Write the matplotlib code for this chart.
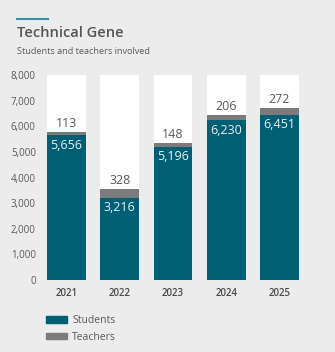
import matplotlib.pyplot as plt
from matplotlib.patches import Patch
from matplotlib.lines import Line2D

plt.rcParams['font.family'] = ['Open Sans', 'DejaVu Sans']

years = ["2021", "2022", "2023", "2024", "2025"]
students = [5656, 3216, 5196, 6230, 6451]
teachers = [113, 328, 148, 206, 272]
yticks = [0, 1000, 2000, 3000, 4000, 5000, 6000, 7000, 8000]

teal = "#005f73"
grey = "#7b7b7b"
bg = "#ececec"
txt = "#5a5a5a"

fig = plt.figure(figsize=(3.35, 3.52), dpi=100)
fig.patch.set_facecolor(bg)

ax = fig.add_axes([0.1194, 0.2045, 0.791, 0.5824])
ax.set_facecolor(bg)
x = list(range(len(years)))
w = 0.73

ax.bar(x, [8000] * len(x), width=w, color="white", zorder=1)
ax.bar(x, students, width=w, color=teal, zorder=2)
ax.bar(x, teachers, width=w, bottom=students, color=grey, zorder=2)

for i in x:
    top = students[i] + teachers[i]
    ax.annotate(f"{teachers[i]:,}", (i, top), xytext=(0, 1.5), textcoords="offset points",
                ha="center", va="bottom", fontsize=9, color=txt, zorder=3)
    ax.annotate(f"{students[i]:,}", (i, students[i]), xytext=(0, -2.5), textcoords="offset points",
                ha="center", va="top", fontsize=9, color="#e6f2f5", zorder=3)

ax.set_xlim(-0.5, 4.48)
ax.set_ylim(0, 8000)
ax.set_xticks(x)
ax.set_xticklabels(years, fontsize=7, color="#4a4a4a", fontweight="semibold")
ax.set_yticks(yticks)
ax.set_yticklabels([f"{v:,}" for v in yticks], fontsize=7, color=txt)
ax.tick_params(length=0)
ax.tick_params(axis="x", pad=6)
ax.tick_params(axis="y", pad=3)
for s in ax.spines.values():
    s.set_visible(False)

fig.add_artist(Line2D([17 / 335, 48 / 335], [1 - 19 / 352, 1 - 19 / 352], color="#3a8ea8", lw=1.5))
fig.text(17 / 335, 1 - 33 / 352, "Technical Gene", fontsize=10.5, color="#555555", va="center",
         fontweight="semibold")
fig.text(17 / 335, 1 - 52 / 352, "Students and teachers involved", fontsize=6.6, color=txt, va="center")

handles = [Patch(color=teal), Patch(color=grey)]
fig.legend(handles, ["Students", "Teachers"], loc="upper left", bbox_to_anchor=(37 / 335, 1 - 306 / 352),
           frameon=False, fontsize=7.5, labelcolor=txt, handlelength=2.0, handleheight=0.6,
           handletextpad=0.5, labelspacing=0.5)

fig.savefig("out.png", dpi=100, facecolor=bg)
